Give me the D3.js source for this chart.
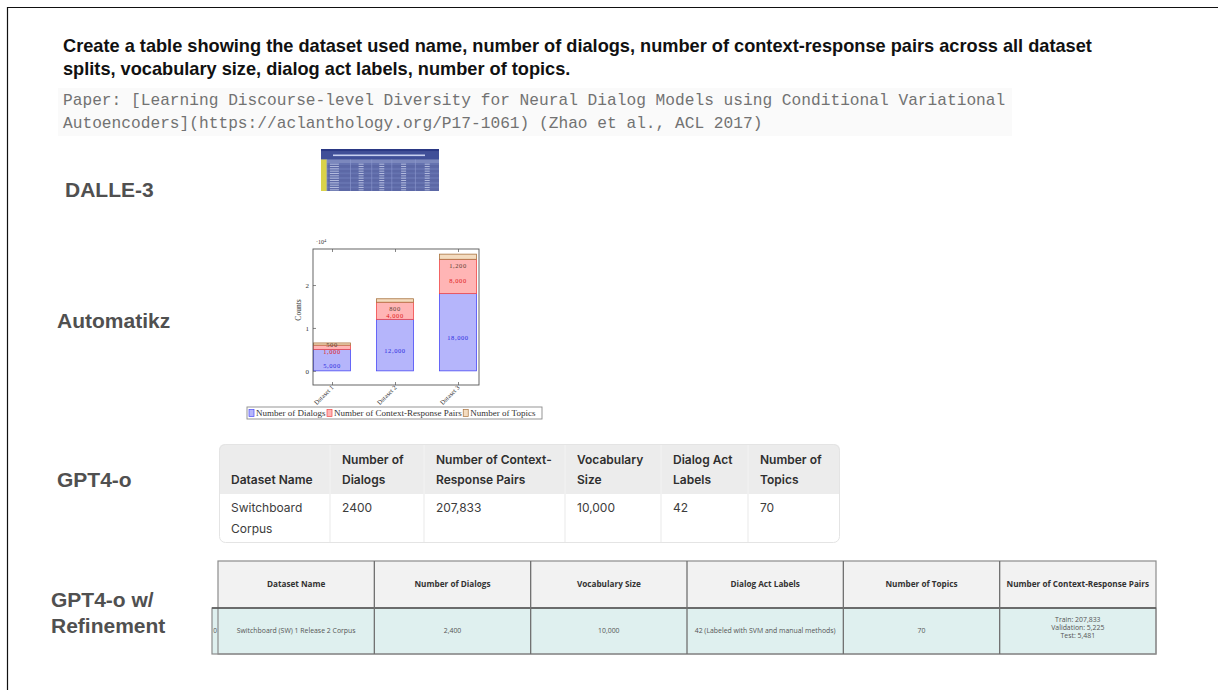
<!DOCTYPE html>
<html>
<head>
<meta charset="utf-8">
<script src="https://cdn.jsdelivr.net/npm/d3@7"></script>
<style>
body { margin: 0; background: #fff; }
svg { display: block; }
</style>
</head>
<body>
<div id="fig"></div>
<script>
// prompt + paper reference
var promptLines = [
    "Create a table showing the dataset used name, number of dialogs, number of context-response pairs across all dataset",
    "splits, vocabulary size, dialog act labels, number of topics."
];
var paperLines = [
    "Paper: [Learning Discourse-level Diversity for Neural Dialog Models using Conditional Variational",
    "Autoencoders](https://aclanthology.org/P17-1061) (Zhao et al., ACL 2017)"
];
var rowLabels = [["DALLE-3"], ["Automatikz"], ["GPT4-o"], ["GPT4-o w/", "Refinement"]];

// Automatikz stacked bars
var barCategories = ["Dataset 1", "Dataset 2", "Dataset 3"];
var dialogs = [5000, 12000, 18000];
var pairs = [1000, 4000, 8000];
var topics = [500, 800, 1200];
var yTicks = [0, 10000, 20000];
var legendNames = ["Number of Dialogs", "Number of Context-Response Pairs", "Number of Topics"];

// GPT4-o table
var gptHeaders = [["Dataset Name"], ["Number of", "Dialogs"], ["Number of Context-", "Response Pairs"],
    ["Vocabulary", "Size"], ["Dialog Act", "Labels"], ["Number of", "Topics"]];
var gptRow = [["Switchboard", "Corpus"], ["2400"], ["207,833"], ["10,000"], ["42"], ["70"]];

// GPT4-o w/ refinement table
var refHeaders = ["Dataset Name", "Number of Dialogs", "Vocabulary Size", "Dialog Act Labels",
    "Number of Topics", "Number of Context-Response Pairs"];
var refRow = [["Switchboard (SW) 1 Release 2 Corpus"], ["2,400"], ["10,000"],
    ["42 (Labeled with SVM and manual methods)"], ["70"], ["Train: 207,833", "Validation: 5,225", "Test: 5,481"]];

// DALLE-3 thumbnail (blurry table picture): column shares and row count
var dalleCols = [0.05, 0.2, 0.18, 0.17, 0.2, 0.2];
var dalleRows = 12;

var W = 1218, H = 690;
var svg = d3.select("#fig").append("svg")
    .attr("width", W)
    .attr("height", H);

svg.append("rect").attr("width", W).attr("height", H).attr("fill", "#fff");

var defs = svg.append("defs");
defs.append("filter").attr("id", "soft")
    .append("feGaussianBlur").attr("stdDeviation", 0.55);

// frame
svg.append("path")
    .attr("d", "M7.5,690 V7.5 H1218")
    .attr("fill", "none")
    .attr("stroke", "#111")
    .attr("stroke-width", 1.2);

// prompt
svg.selectAll(".prompt")
    .data(promptLines)
    .enter()
    .append("text")
    .attr("x", 63)
    .attr("y", (d, i) => 52 + i * 23)
    .style("font-family", "'Liberation Sans', Arial, sans-serif")
    .style("font-weight", "bold")
    .style("font-size", "18.2px")
    .style("fill", "#111")
    .text(d => d);

svg.append("rect")
    .attr("x", 58).attr("y", 88)
    .attr("width", 954).attr("height", 48)
    .attr("fill", "#fafafa");

svg.selectAll(".paper")
    .data(paperLines)
    .enter()
    .append("text")
    .attr("x", 63)
    .attr("y", (d, i) => 105 + i * 23)
    .style("font-family", "'Liberation Mono', 'Courier New', monospace")
    .style("font-size", "16.2px")
    .style("fill", "#727272")
    .text(d => d);

// left labels
var labelPos = [[65, 197], [57, 328], [57, 487], [51, 607]];
rowLabels.forEach(function (lines, k) {
    var t = svg.append("text")
        .attr("x", labelPos[k][0])
        .attr("y", labelPos[k][1])
        .style("font-family", "'Liberation Sans', Arial, sans-serif")
        .style("font-weight", "bold")
        .style("font-size", "21px")
        .style("fill", "#505050");
    lines.forEach(function (s, i) {
        t.append("tspan").attr("x", labelPos[k][0]).attr("dy", i ? 26 : 0).text(s);
    });
});

// ---------- DALLE-3 thumbnail ----------
var dal = svg.append("g").attr("transform", "translate(321,149)").attr("filter", "url(#soft)");
var dw = 118, dh = 42;
dal.append("rect").attr("width", dw).attr("height", dh).attr("fill", "#56639f");
dal.append("rect").attr("width", dw).attr("height", 2.5).attr("fill", "#2a3784");
dal.append("rect").attr("y", 2.5).attr("width", dw).attr("height", 8).attr("fill", "#3f4f98");
dal.append("rect").attr("x", 12).attr("y", 5.5).attr("width", 92).attr("height", 1.6).attr("fill", "#c8d0ef");
var colEdges = [0];
dalleCols.forEach(function (c) { colEdges.push(colEdges[colEdges.length - 1] + c * dw); });
var rowY = d3.scaleBand().domain(d3.range(dalleRows)).range([14, dh]);
dal.append("rect").attr("y", 10.5).attr("width", dw).attr("height", 3.5).attr("fill", "#7b88bd");
dal.selectAll(".drow")
    .data(d3.range(dalleRows))
    .enter()
    .append("rect")
    .attr("x", 0)
    .attr("y", d => rowY(d))
    .attr("width", dw)
    .attr("height", rowY.bandwidth())
    .attr("fill", d => d % 2 ? "#5b68a6" : "#6673b0");
dal.append("rect").attr("y", 10.5).attr("width", colEdges[1]).attr("height", dh - 10.5).attr("fill", "#d9d24a");
dal.selectAll(".dcol")
    .data(colEdges.slice(1, -1))
    .enter()
    .append("line")
    .attr("x1", d => d).attr("x2", d => d)
    .attr("y1", 10.5).attr("y2", dh)
    .attr("stroke", "#8f9ad0").attr("stroke-width", 0.6);
// little text marks in cells
d3.range(dalleRows).forEach(function (r) {
    for (var c = 1; c < colEdges.length - 1; c++) {
        var cx = (colEdges[c] + colEdges[c + 1]) / 2;
        var w = c === 1 ? 9 : 5;
        dal.append("rect")
            .attr("x", c === 1 ? colEdges[1] + 3 : cx - w / 2)
            .attr("y", rowY(r) + rowY.bandwidth() / 2 - 0.5)
            .attr("width", w).attr("height", 1)
            .attr("fill", "#c7cdea").attr("opacity", 0.8);
    }
});

// ---------- Automatikz stacked bar chart ----------
var box = { left: 313, right: 479, top: 249, bottom: 385 };
var chartGroup = svg.append("g");

var xScale = d3.scalePoint()
    .domain(barCategories)
    .range([332, 458]);
var yScale = d3.scaleLinear()
    .domain([-3300, 28400])
    .range([box.bottom, box.top]);
var barW = 37;

var stackData = barCategories.map(function (c, i) {
    return { cat: c, dialogs: dialogs[i], pairs: pairs[i], topics: topics[i] };
});
var series = d3.stack().keys(["dialogs", "pairs", "topics"])(stackData);
var fills = { dialogs: "#b5b5fb", pairs: "#ffb5b5", topics: "#f4dcc0" };
var strokes = { dialogs: "#4a4af5", pairs: "#f04848", topics: "#a8733f" };
var labelColors = { dialogs: "#2a2ae0", pairs: "#e01818", topics: "#5a4030" };

chartGroup.append("rect")
    .attr("x", box.left).attr("y", box.top)
    .attr("width", box.right - box.left).attr("height", box.bottom - box.top)
    .attr("fill", "#fff");

series.forEach(function (s) {
    chartGroup.selectAll(".seg-" + s.key)
        .data(s)
        .enter()
        .append("rect")
        .attr("x", d => xScale(d.data.cat) - barW / 2)
        .attr("y", d => yScale(d[1]))
        .attr("width", barW)
        .attr("height", d => yScale(d[0]) - yScale(d[1]))
        .attr("fill", fills[s.key])
        .attr("stroke", strokes[s.key])
        .attr("stroke-width", 0.8);
});

// segment labels (topics label sits just under the top of the red block, kept clear of the red label)
function midY(d) { return (yScale(d[0]) + yScale(d[1])) / 2 + 8; }
var labY = {
    dialogs: midY,
    pairs: function (d) { return midY(d) - 1; },
    topics: function (d, i) { return Math.min(yScale(d[0]) + 9, midY(series[1][i]) - 1 - 7); }
};
series.forEach(function (s) {
    chartGroup.selectAll(".lab-" + s.key)
        .data(s)
        .enter()
        .append("text")
        .attr("x", d => xScale(d.data.cat))
        .attr("y", (d, i) => labY[s.key](d, i))
        .style("font-family", "'Liberation Serif', serif")
        .style("font-size", "6.5px")
        .style("letter-spacing", "0.6px")
        .style("text-anchor", "middle")
        .style("fill", labelColors[s.key])
        .text(d => d3.format(",")(d[1] - d[0]));
});

chartGroup.append("rect")
    .attr("x", box.left).attr("y", box.top)
    .attr("width", box.right - box.left).attr("height", box.bottom - box.top)
    .attr("fill", "none")
    .attr("stroke", "#555")
    .attr("stroke-width", 0.9);

var leftAxis = d3.axisLeft(yScale).tickValues(yTicks).tickSizeInner(-3).tickSizeOuter(0)
    .tickPadding(4).tickFormat(d => d / 10000);
var bottomAxis = d3.axisBottom(xScale).tickSizeInner(-3).tickSizeOuter(0).tickFormat("");
var topAxis = d3.axisTop(xScale).tickSizeInner(-3).tickSizeOuter(0).tickFormat("");

var yg = chartGroup.append("g").attr("transform", `translate(${box.left},0)`).call(leftAxis);
var bg = chartGroup.append("g").attr("transform", `translate(0,${box.bottom})`).call(bottomAxis);
var tg = chartGroup.append("g").attr("transform", `translate(0,${box.top})`).call(topAxis);
[yg, bg, tg].forEach(function (g) {
    g.select(".domain").remove();
    g.selectAll("line").attr("stroke", "#555").attr("stroke-width", 0.7);
    g.selectAll("text")
        .style("font-family", "'Liberation Serif', serif")
        .style("font-size", "7px")
        .style("fill", "#333");
});

// rotated category labels
chartGroup.selectAll(".xlab")
    .data(barCategories)
    .enter()
    .append("text")
    .attr("transform", d => `translate(${xScale(d) + 2},${box.bottom + 3}) rotate(-45)`)
    .style("font-family", "'Liberation Serif', serif")
    .style("font-size", "6.5px")
    .style("text-anchor", "end")
    .style("fill", "#333")
    .text(d => d);

var expo = chartGroup.append("text")
    .attr("x", box.left + 3).attr("y", box.top - 5)
    .style("font-family", "'Liberation Serif', serif")
    .style("font-size", "6px")
    .style("fill", "#333");
expo.append("tspan").text("·10");
expo.append("tspan").attr("dy", -2).style("font-size", "4.5px").text("4");

chartGroup.append("text")
    .attr("transform", `translate(301,${(box.top + box.bottom) / 2 - 7}) rotate(-90)`)
    .style("font-family", "'Liberation Serif', serif")
    .style("font-size", "7.5px")
    .style("text-anchor", "middle")
    .style("fill", "#333")
    .text("Counts");

// legend
var legend = chartGroup.append("g");
legend.append("rect")
    .attr("x", 247).attr("y", 407)
    .attr("width", 295).attr("height", 12)
    .attr("fill", "#fff")
    .attr("stroke", "#8a8a8a")
    .attr("stroke-width", 0.9);
var legKeys = ["dialogs", "pairs", "topics"];
var lx = 249;
legendNames.forEach(function (name, i) {
    legend.append("rect")
        .attr("x", lx).attr("y", 409.5)
        .attr("width", 5).attr("height", 7)
        .attr("fill", fills[legKeys[i]])
        .attr("stroke", strokes[legKeys[i]])
        .attr("stroke-width", 0.7);
    var t = legend.append("text")
        .attr("x", lx + 7).attr("y", 416.3)
        .style("font-family", "'Liberation Serif', serif")
        .style("font-size", "9px")
        .style("fill", "#333")
        .text(name);
    lx += 7 + t.node().getComputedTextLength() + 1.5;
});

// ---------- GPT4-o table ----------
var gptEdges = [219, 330, 424, 565, 661, 748, 840];
var gTop = 444, gHeadBottom = 494, gBottom = 543;
var gpt = svg.append("g");
gpt.append("path")
    .attr("d", `M${gptEdges[0]},${gHeadBottom} V${gTop + 6} Q${gptEdges[0]},${gTop} ${gptEdges[0] + 6},${gTop} H${gptEdges[6] - 6} Q${gptEdges[6]},${gTop} ${gptEdges[6]},${gTop + 6} V${gHeadBottom} Z`)
    .attr("fill", "#ececec");
gpt.selectAll(".gsep")
    .data(gptEdges.slice(1, -1))
    .enter()
    .append("line")
    .attr("x1", d => d).attr("x2", d => d)
    .attr("y1", gTop).attr("y2", gBottom)
    .attr("stroke", "#e9e9e9")
    .attr("stroke-width", 1);
gpt.selectAll(".gsepH")
    .data(gptEdges.slice(1, -1))
    .enter()
    .append("line")
    .attr("x1", d => d).attr("x2", d => d)
    .attr("y1", gTop).attr("y2", gHeadBottom)
    .attr("stroke", "#f5f5f5")
    .attr("stroke-width", 1);
gpt.append("rect")
    .attr("x", gptEdges[0] + 0.5).attr("y", gTop + 0.5)
    .attr("width", gptEdges[6] - gptEdges[0] - 1).attr("height", gBottom - gTop - 1)
    .attr("rx", 6)
    .attr("fill", "none")
    .attr("stroke", "#e4e4e4");

gptHeaders.forEach(function (lines, c) {
    var t = gpt.append("text")
        .attr("x", gptEdges[c] + 12)
        .style("font-family", "Inter, 'Noto Sans', sans-serif")
        .style("font-weight", "600")
        .style("font-size", "12px")
        .style("fill", "#2f2f2f");
    lines.forEach(function (s, i) {
        t.append("tspan")
            .attr("x", gptEdges[c] + 12)
            .attr("y", 484 - (lines.length - 1 - i) * 20.5)
            .text(s);
    });
});
gptRow.forEach(function (lines, c) {
    var t = gpt.append("text")
        .style("font-family", "Inter, 'Noto Sans', sans-serif")
        .style("font-size", "12px")
        .style("fill", "#3c3c3c");
    lines.forEach(function (s, i) {
        t.append("tspan")
            .attr("x", gptEdges[c] + 12)
            .attr("y", 512 + i * 21)
            .text(s);
    });
});

// ---------- GPT4-o w/ Refinement table ----------
var refX = d3.scaleBand()
    .domain(refHeaders)
    .range([218, 1156]);
var rTop = 561, rMid = 608, rBottom = 654;
var ref = svg.append("g");
ref.append("rect")
    .attr("x", 218).attr("y", rTop)
    .attr("width", 1156 - 218).attr("height", rMid - rTop)
    .attr("fill", "#f2f2f2");
ref.append("rect")
    .attr("x", 212).attr("y", rMid)
    .attr("width", 1156 - 212).attr("height", rBottom - rMid)
    .attr("fill", "#dff0ef");
ref.append("rect")
    .attr("x", 218).attr("y", rTop)
    .attr("width", 1156 - 218).attr("height", rBottom - rTop)
    .attr("fill", "none")
    .attr("stroke", "#8c8c8c")
    .attr("stroke-width", 1.2);
ref.append("rect")
    .attr("x", 212).attr("y", rMid)
    .attr("width", 1156 - 212).attr("height", rBottom - rMid)
    .attr("fill", "none")
    .attr("stroke", "#8c8c8c")
    .attr("stroke-width", 1.2);
ref.append("line")
    .attr("x1", 212).attr("x2", 1156)
    .attr("y1", rMid).attr("y2", rMid)
    .attr("stroke", "#555")
    .attr("stroke-width", 1.5);
ref.selectAll(".rsep")
    .data(refHeaders.slice(1))
    .enter()
    .append("line")
    .attr("x1", d => refX(d)).attr("x2", d => refX(d))
    .attr("y1", rTop).attr("y2", rBottom)
    .attr("stroke", "#707070")
    .attr("stroke-width", 1.3);

ref.selectAll(".rhead")
    .data(refHeaders)
    .enter()
    .append("text")
    .attr("x", d => refX(d) + refX.bandwidth() / 2)
    .attr("y", 587)
    .style("font-family", "'Open Sans', 'Noto Sans', sans-serif")
    .style("font-weight", "bold")
    .style("font-size", "8.2px")
    .style("text-anchor", "middle")
    .style("fill", "#333")
    .text(d => d);

refRow.forEach(function (lines, c) {
    var cx = refX(refHeaders[c]) + refX.bandwidth() / 2;
    var t = ref.append("text")
        .style("font-family", "'Open Sans', 'Noto Sans', sans-serif")
        .style("font-size", "6.9px")
        .style("text-anchor", "middle")
        .style("fill", "#555");
    lines.forEach(function (s, i) {
        t.append("tspan")
            .attr("x", cx)
            .attr("y", (lines.length > 1 ? 630 : 633) + (i - (lines.length - 1) / 2) * 8)
            .text(s);
    });
});
ref.append("text")
    .attr("x", 215).attr("y", 633)
    .style("font-family", "'Open Sans', sans-serif")
    .style("font-size", "6.5px")
    .style("text-anchor", "middle")
    .style("fill", "#555")
    .text("0");
</script>
</body>
</html>
